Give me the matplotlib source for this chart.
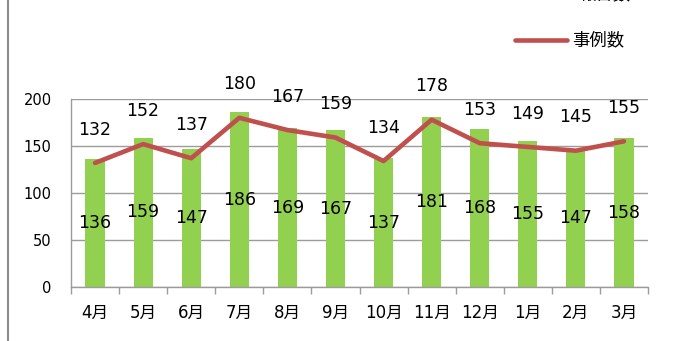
import matplotlib
matplotlib.use("Agg")
import matplotlib.pyplot as plt
from matplotlib.lines import Line2D
import numpy as np

plt.rcParams['font.family'] = ['DejaVu Sans', 'Noto Sans CJK JP']

months = ["4月", "5月", "6月", "7月", "8月", "9月", "10月", "11月", "12月", "1月", "2月", "3月"]
reports = [136, 159, 147, 186, 169, 167, 137, 181, 168, 155, 147, 158]   # 報告数 (bars)
cases = [132, 152, 137, 180, 167, 159, 134, 178, 153, 149, 145, 155]     # 事例数 (line)
yticks = [0, 50, 100, 150, 200]

bar_color = "#92D050"
line_color = "#C0504D"
grid_color = "#9C9C9C"

fig = plt.figure(figsize=(6.75, 3.41), dpi=100)
W, H = 675, 341
ax = fig.add_axes([71 / W, (H - 287) / H, 577 / W, 188 / H])

x = np.arange(len(months))
ax.bar(x, reports, width=0.4, color=bar_color, zorder=2)
ax.plot(x, cases, color=line_color, lw=3.3, solid_capstyle='round',
        solid_joinstyle='round', zorder=3)

ax.set_xlim(-0.5, len(months) - 0.5)
ax.set_ylim(0, 200)
ax.set_yticks(yticks)
ax.yaxis.grid(True, color=grid_color, lw=1.0, zorder=0)
ax.set_axisbelow(True)

for s in ["top", "right"]:
    ax.spines[s].set_visible(False)
for s in ["left", "bottom"]:
    ax.spines[s].set_color(grid_color)
    ax.spines[s].set_linewidth(1.0)

ax.tick_params(axis='y', length=0, pad=14, labelsize=10.5)
ax.set_xticks(x)
ax.set_xticklabels(months, fontsize=12)
ax.tick_params(axis='x', length=0, pad=12)
ax.set_xticks(np.arange(len(months) + 1) - 0.5, minor=True)
ax.tick_params(axis='x', which='minor', length=5, color=grid_color, width=1.0)

for xi, v in zip(x, reports):
    ax.text(xi, v / 2, str(v), ha='center', va='center', fontsize=12.5, zorder=4)
for xi, v in zip(x, cases):
    ax.annotate(str(v), (xi, v), xytext=(0, 24), textcoords='offset points',
                ha='center', va='center', fontsize=12.5, zorder=4)

# frame line on the left edge
fig.add_artist(Line2D([7.5 / W, 7.5 / W], [0, 1], transform=fig.transFigure,
                      color="#8C8C8C", lw=1.5))

# legend
fig.add_artist(Line2D([515 / W, 567 / W], [(H - 40) / H] * 2, transform=fig.transFigure,
                      color=line_color, lw=3.3, solid_capstyle='round'))
fig.text(572 / W, (H - 40) / H, "事例数", ha='left', va='center', fontsize=12.5,
         family=['Noto Sans CJK JP', 'DejaVu Sans'])
fig.text(578 / W, 1 + 5.5 / H, "報告数", ha='left', va='center', fontsize=12.5,
         family=['Noto Sans CJK JP', 'DejaVu Sans'])

fig.savefig("out.png", dpi=100)
